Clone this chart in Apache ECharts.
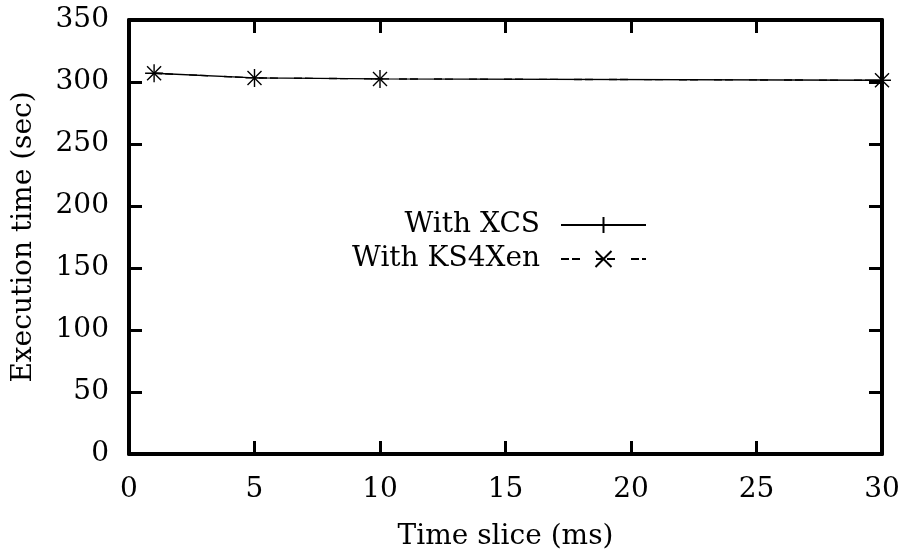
<!DOCTYPE html>
<html>
<head>
<meta charset="utf-8">
<script src="https://cdn.jsdelivr.net/npm/echarts@6/dist/echarts.min.js"></script>
<style>
  html, body { margin: 0; padding: 0; background: #fff; }
  #chart { width: 905px; height: 556px; }
</style>
</head>
<body>
<div id="chart"></div>
<script>
// Time slice lengths (ms) and measured execution times (sec)
const timeSlices = [1, 5, 10, 30];
const xcsTimes = [307, 303.3, 302.5, 301.4];
const ks4xenTimes = [307, 303.3, 302.5, 301.4];
const seriesNames = ['With XCS', 'With KS4Xen'];

const FONT = 'DejaVu Serif';
const FS = 28;

const plusSymbol = 'path://M0,-1L0,1M-1,0L1,0';
const crossSymbol = 'path://M-1,-1L1,1M-1,1L1,-1';

const chart = echarts.init(document.getElementById('chart'), null, { renderer: 'canvas' });

const axisLine = { show: true, onZero: false, lineStyle: { color: '#000', width: 4 } };
const tick = { show: true, inside: true, length: 13, lineStyle: { color: '#000', width: 3 } };
const textStyle = { fontFamily: FONT, fontSize: FS, color: '#000' };

chart.setOption({
  animation: false,
  backgroundColor: '#fff',
  textStyle: { fontFamily: FONT },
  grid: { left: 129, right: 23, top: 20, bottom: 99, containLabel: false },
  legend: {
    orient: 'vertical',
    align: 'right',
    right: 258,
    top: 211,
    padding: 0,
    itemWidth: 85,
    itemHeight: 20,
    itemGap: 6,
    textStyle: Object.assign({ padding: [0, 16, 0, 0] }, textStyle),
    data: seriesNames
  },
  xAxis: [{
    type: 'value', min: 0, max: 30, interval: 5,
    name: 'Time slice (ms)', nameLocation: 'middle', nameGap: 69,
    nameTextStyle: textStyle,
    axisLine, axisTick: tick, splitLine: { show: false },
    axisLabel: Object.assign({ margin: 22 }, textStyle)
  }, {
    type: 'value', min: 0, max: 30, interval: 5, position: 'top',
    axisLine, axisTick: tick, splitLine: { show: false }, axisLabel: { show: false }
  }],
  yAxis: [{
    type: 'value', min: 0, max: 350, interval: 50,
    name: 'Execution time (sec)', nameLocation: 'middle', nameGap: 91,
    nameTextStyle: textStyle,
    axisLine, axisTick: tick, splitLine: { show: false },
    axisLabel: Object.assign({ margin: 20 }, textStyle)
  }, {
    type: 'value', min: 0, max: 350, interval: 50, position: 'right',
    axisLine, axisTick: tick, splitLine: { show: false }, axisLabel: { show: false }
  }],
  series: [{
    name: seriesNames[0],
    type: 'line',
    data: timeSlices.map((t, i) => [t, xcsTimes[i]]),
    symbol: plusSymbol,
    symbolSize: 18,
    lineStyle: { color: '#000', width: 1.4, type: 'solid' },
    itemStyle: { color: 'none', borderColor: '#000', borderWidth: 1.4 },
    z: 3
  }, {
    name: seriesNames[1],
    type: 'line',
    data: timeSlices.map((t, i) => [t, ks4xenTimes[i]]),
    symbol: crossSymbol,
    symbolSize: 14,
    lineStyle: { color: '#000', width: 1.4, type: [8, 3, 8, 16] },
    itemStyle: { color: 'none', borderColor: '#000', borderWidth: 1.4 },
    z: 3
  }]
});
</script>
</body>
</html>
